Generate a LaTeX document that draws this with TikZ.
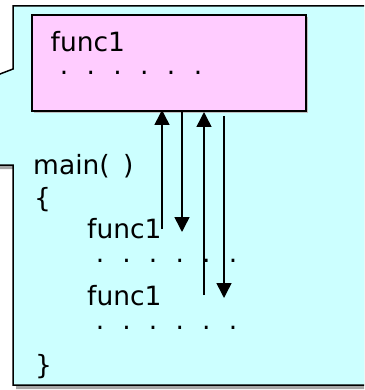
\documentclass[tikz,border=0pt]{standalone}
\usepackage{fontspec}
\setmainfont{DejaVu Sans}
\usetikzlibrary{arrows.meta}
\usetikzlibrary{shadows}
\definecolor{callcyan}{HTML}{CCFFFF}
\definecolor{callpink}{HTML}{FFCCFF}
\tikzset{
 code/.style={font=\fontsize{26.5}{30}\selectfont, inner sep=0, anchor=base west},
 dot/.style={font=\fontsize{26.5}{30}\selectfont, inner sep=0},
 flow/.style={line width=1.5pt, -{Triangle[length=15pt,width=15pt]}},
}

\begin{document}
\begin{tikzpicture}[x=1pt,y=-1pt]
\useasboundingbox (0,0) rectangle (364,390);
\clip (0,0) rectangle (364,390);
% callout body
\draw[line width=1.5pt, fill=callcyan, drop shadow={shadow xshift=3pt,shadow yshift=-4pt,fill=gray!70,opacity=1}]
 (13,6) -- (400,6) -- (400,385) -- (13,385) -- (13,165) -- (-100,165) -- (-100,112.5) -- (13,69) -- cycle;
% called function
\node[draw, line width=2pt, fill=callpink, minimum width=274pt, minimum height=96pt, inner sep=0,
 drop shadow={shadow xshift=2pt,shadow yshift=-2pt,fill=gray!50,opacity=1}] (fn) at (169,63) {};
\node[code] (fname) at (50.5,52) {func1};
\foreach \i in {0,...,5} \node[dot] (fdot\i) at (64+26.8*\i,73) {.};
% caller
\node[code] (mainname) at (33,174) {main(\kern2pt\ \kern3pt)};
\node[code] (lbrace) at (34,207) {\{};
\node[code] (call1) at (87,238) {func1};
\foreach \i in {0,...,5} \node[dot] (cdot\i) at (100+26.6*\i,261) {.};
\node[code] (call2) at (87,305) {func1};
\foreach \i in {0,...,5} \node[dot] (edot\i) at (100+26.6*\i,328) {.};
\node[code] (rbrace) at (35,374) {\}};
% calls and returns
\coordinate (go1) at (162,229);
\coordinate (back1) at (182,232);
\coordinate (go2) at (204,295);
\coordinate (back2) at (224,298);
\draw[flow] (go1) -- ([yshift=2pt]go1 |- fn.south);
\draw[flow] (back1 |- fn.south) -- (back1);
\draw[flow] (go2) -- (go2 |- fn.south);
\draw[flow] ([yshift=-4pt]back2 |- fn.south) -- (back2);
\end{tikzpicture}
\end{document}
